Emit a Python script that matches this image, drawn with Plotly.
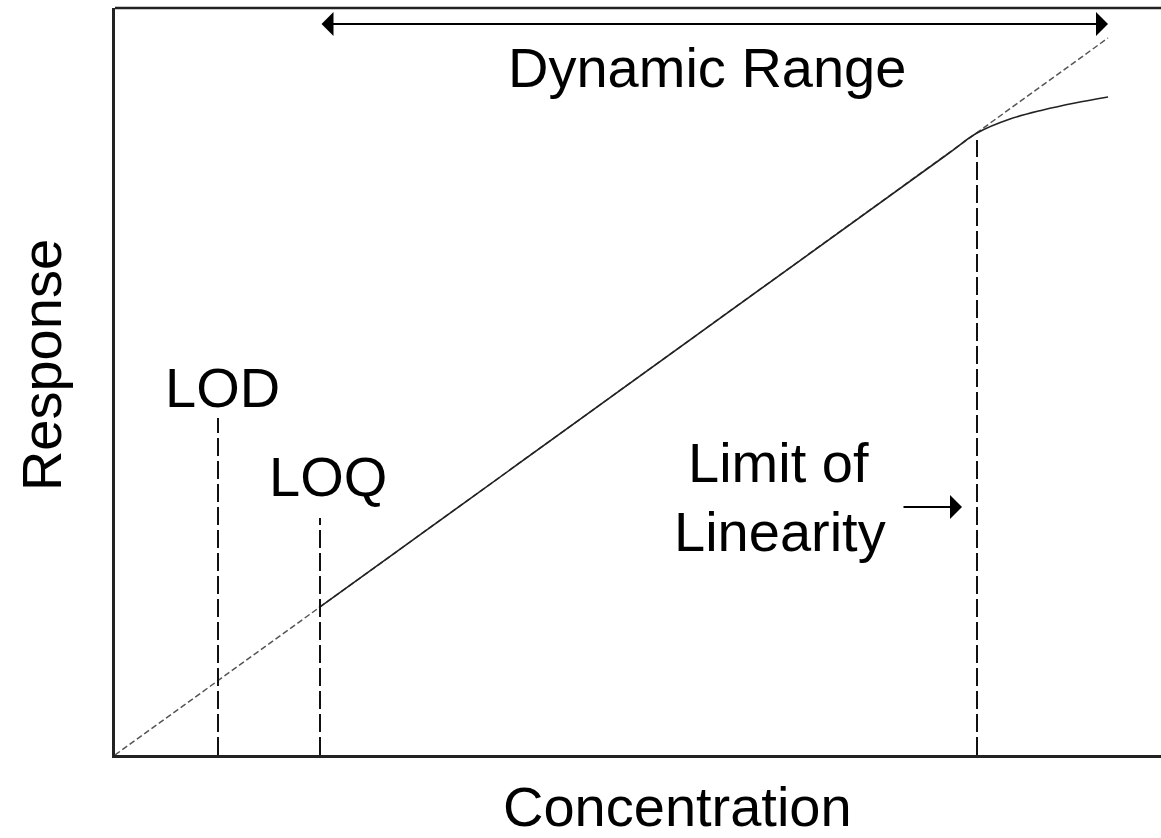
import plotly.graph_objects as go

# Data (concentration / response units; arbitrary)
ideal_x = [0.0, 9.93]
ideal_y = [0.0, 7.17]

resp_x = [2.04, 8.3, 8.62, 8.95, 9.28, 9.6, 9.93]
resp_y = [1.473, 5.99, 6.22, 6.36, 6.45, 6.52, 6.58]

lod_x, lod_top = 1.03, 3.37
loq_x, loq_top = 2.05, 2.37
lol_x, lol_top = 8.62, 6.15

range_start, range_end, range_y = 2.05, 9.93, 7.31

FONT = "Liberation Sans, Arial, sans-serif"
FS = 56

fig = go.Figure()

fig.add_trace(go.Scatter(x=ideal_x, y=ideal_y, mode="lines",
                         line=dict(color="#555555", width=1.5, dash="6px,3px"),
                         hoverinfo="skip"))
fig.add_trace(go.Scatter(x=resp_x, y=resp_y, mode="lines",
                         line=dict(color="#222222", width=1.6, shape="spline", smoothing=1.0),
                         hoverinfo="skip"))
for vx, vt in [(lod_x, lod_top), (loq_x, loq_top), (lol_x, lol_top)]:
    fig.add_trace(go.Scatter(x=[vx, vx], y=[0, vt], mode="lines",
                             line=dict(color="#111111", width=2, dash="18px,5px"),
                             hoverinfo="skip"))

# top border
fig.add_shape(type="line", xref="paper", yref="paper", x0=0, x1=1, y0=1, y1=1,
              line=dict(color="#222222", width=2.5))

ann = []
# double arrow for dynamic range
ann.append(dict(x=range_end, y=range_y, ax=range_start, ay=range_y, xref="x", yref="y",
                axref="x", ayref="y", showarrow=True, arrowhead=1, startarrowhead=1,
                arrowside="end+start", arrowwidth=2, arrowsize=2, startarrowsize=2,
                arrowcolor="#000000", text=""))
# limit of linearity arrow
ann.append(dict(x=8.47, y=2.48, ax=7.87, ay=2.48, xref="x", yref="y",
                axref="x", ayref="y", showarrow=True, arrowhead=1,
                arrowwidth=2, arrowsize=2, arrowcolor="#000000", text=""))

labels = [
    ("Dynamic Range", 5.915, 6.875),
    ("LOD", 1.07, 3.675),
    ("LOQ", 2.13, 2.79),
    ("Limit of", 6.63, 2.925),
    ("Linearity", 6.65, 2.24),
]
for t, x, y in labels:
    ann.append(dict(x=x, y=y, xref="x", yref="y", text=t, showarrow=False,
                    xanchor="center", yanchor="middle",
                    font=dict(family=FONT, size=FS, color="#000000")))
ann.append(dict(x=0.5378, y=-0.069, xref="paper", yref="paper", text="Concentration",
                showarrow=False, xanchor="center", yanchor="middle",
                font=dict(family=FONT, size=FS, color="#000000")))
ann.append(dict(x=-0.0707, y=0.522, xref="paper", yref="paper", text="Response", showarrow=False,
                textangle=-90, xanchor="center", yanchor="middle",
                font=dict(family=FONT, size=FS, color="#000000")))

fig.update_layout(
    width=1161, height=838,
    margin=dict(l=115, r=0, t=8, b=83),
    paper_bgcolor="white", plot_bgcolor="white",
    showlegend=False,
    annotations=ann,
    xaxis=dict(range=[0, 10.46], showgrid=False, zeroline=False, showticklabels=False,
               ticks="", showline=True, linecolor="#222222", linewidth=2.5),
    yaxis=dict(range=[0, 7.47], showgrid=False, zeroline=False, showticklabels=False,
               ticks="", showline=True, linecolor="#222222", linewidth=2.5),
)

fig.write_html("out.html", config={"displayModeBar": False},
               post_script="document.body.style.margin='0';document.body.style.overflow='hidden';")
